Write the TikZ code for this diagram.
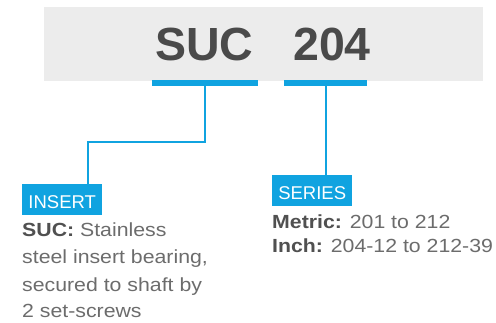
\documentclass[tikz,border=0pt]{standalone}
\usepackage{fontspec}
\setmainfont{Liberation Sans}
\newfontfamily\bodyfont{Liberation Sans}[FakeStretch=1.12]
\definecolor{boxgray}{RGB}{236,236,236}
\definecolor{titlegray}{RGB}{74,74,74}
\definecolor{bodygray}{RGB}{108,108,108}
\definecolor{boldgray}{RGB}{80,80,80}
\definecolor{accent}{RGB}{16,163,224}
\tikzset{
  titletext/.style={font=\fontsize{46.5}{46.5}\selectfont\bfseries, text=titlegray, inner sep=0pt, anchor=base west},
  bar/.style={fill=accent, draw=none, inner sep=0pt, minimum height=6pt},
  tag/.style={fill=accent, text=white, font=\fontsize{18.5}{18.5}\selectfont, inner xsep=6pt, inner ysep=0pt, text height=24pt, text depth=7pt, minimum width=80pt, anchor=north west},
  bodyline/.style={font=\bodyfont\fontsize{19}{19}\selectfont, text=bodygray, inner sep=0pt, anchor=base west},
  link/.style={draw=accent, line width=2pt}
}
\newcommand{\lead}[1]{\textcolor{boldgray}{\bfseries #1}}
\begin{document}
\begin{tikzpicture}[x=1pt,y=-1pt]
\useasboundingbox (0,0) rectangle (496,322);
\node[fill=boxgray, inner sep=0pt, minimum width=439pt, minimum height=74pt, anchor=north west] (box) at (44,7) {};
\node[titletext] (suc) at (155,60) {SUC};
\node[titletext] (num) at (293,60) {204};
\node[bar, minimum width=106pt, anchor=north west] (bar1) at (152,80) {};
\node[bar, minimum width=83pt, anchor=north west] (bar2) at (284,80) {};
\node[tag] (insert) at (22,184) {INSERT};
\node[tag] (series) at (272,175) {SERIES};
\coordinate (k1) at (88,142);
\draw[link] (bar1.south) |- (k1) -- (insert.north -| k1);
\draw[link] (bar2.south) -- (series.north -| bar2.south);
\node[bodyline] (l1) at (22,236) {\lead{SUC:} Stainless};
\node[bodyline] (l2) at (22,263) {steel insert bearing,};
\node[bodyline] (l3) at (22,291) {secured to shaft by};
\node[bodyline] (l4) at (22,317) {2 set-screws};
\node[bodyline] (m1) at (272,228) {\lead{Metric:} 201 to 212};
\node[bodyline] (m2) at (272,252) {\lead{Inch:} 204-12 to 212-39};
\end{tikzpicture}
\end{document}
